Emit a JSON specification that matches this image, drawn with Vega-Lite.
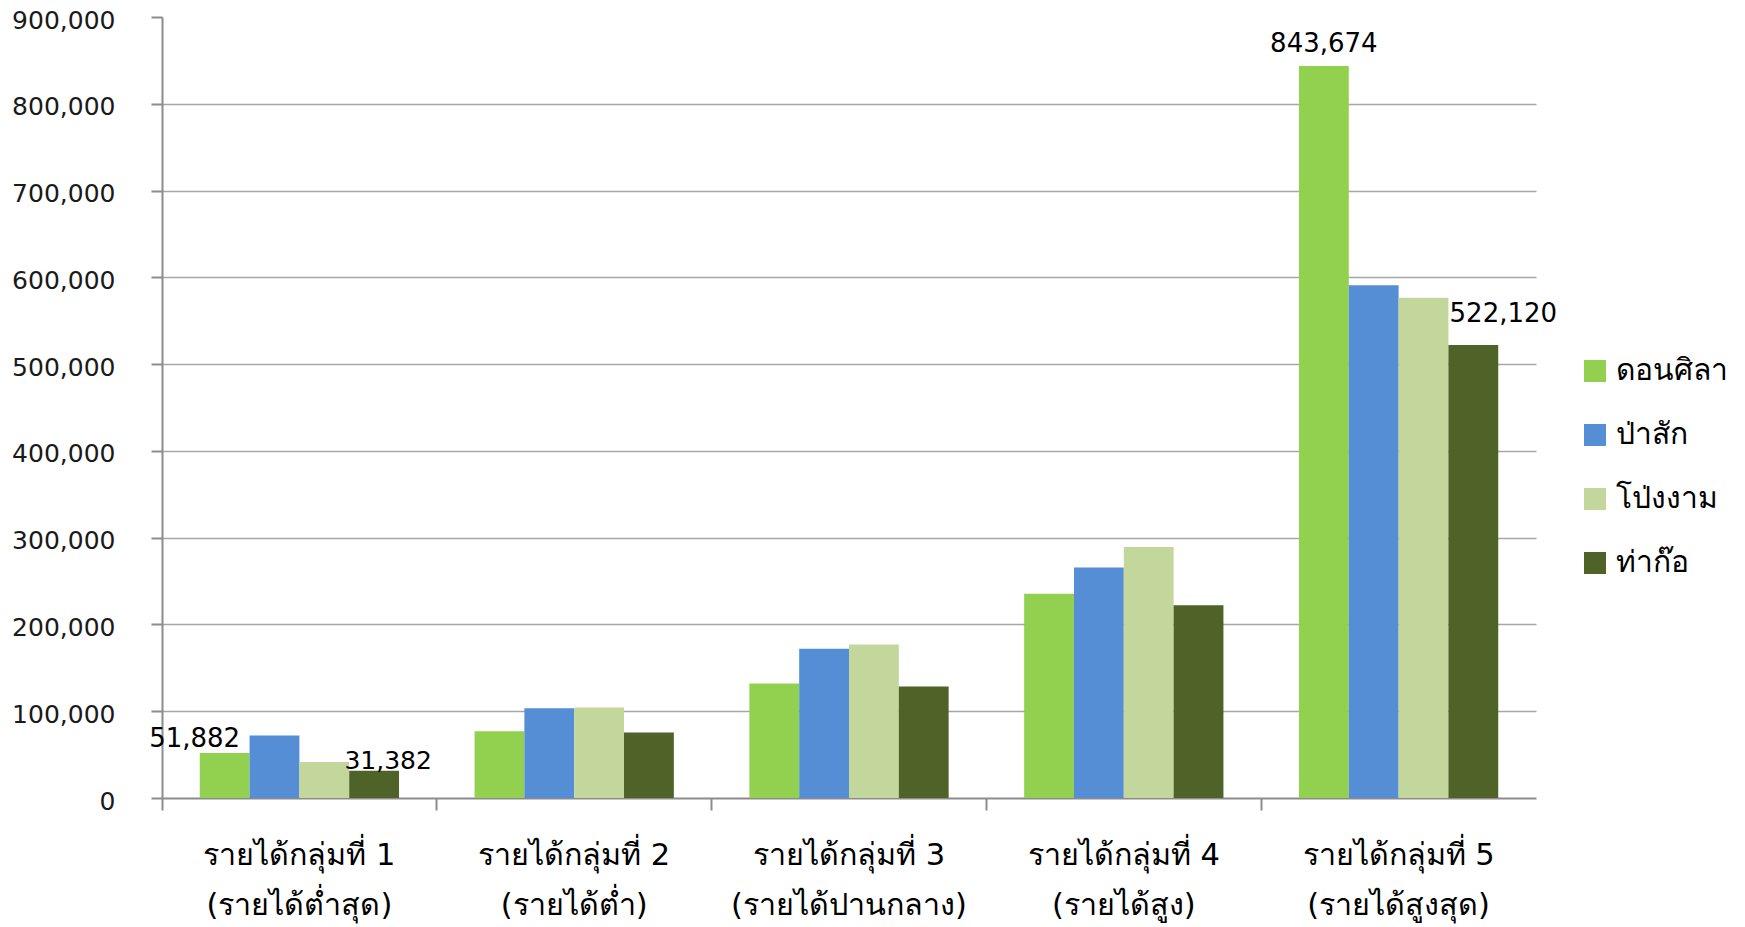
{
  "$schema": "https://vega.github.io/schema/vega-lite/v6.json",
  "width": 1374,
  "height": 781,
  "autosize": {"type": "none"},
  "padding": {"left": 162, "top": 17, "right": 209, "bottom": 129},
  "background": "white",
  "config": {"view": {"stroke": null}, "font": "DejaVu Sans"},
  "data": {
    "values": [
      {"grp": 1, "group": "รายได้กลุ่มที่ 1|(รายได้ต่ำสุด)", "area": "ดอนศิลา", "income": 51882},
      {"grp": 1, "group": "รายได้กลุ่มที่ 1|(รายได้ต่ำสุด)", "area": "ป่าสัก", "income": 72000},
      {"grp": 1, "group": "รายได้กลุ่มที่ 1|(รายได้ต่ำสุด)", "area": "โป่งงาม", "income": 41500},
      {"grp": 1, "group": "รายได้กลุ่มที่ 1|(รายได้ต่ำสุด)", "area": "ท่าก๊อ", "income": 31382},
      {"grp": 2, "group": "รายได้กลุ่มที่ 2|(รายได้ต่ำ)", "area": "ดอนศิลา", "income": 77000},
      {"grp": 2, "group": "รายได้กลุ่มที่ 2|(รายได้ต่ำ)", "area": "ป่าสัก", "income": 103500},
      {"grp": 2, "group": "รายได้กลุ่มที่ 2|(รายได้ต่ำ)", "area": "โป่งงาม", "income": 104300},
      {"grp": 2, "group": "รายได้กลุ่มที่ 2|(รายได้ต่ำ)", "area": "ท่าก๊อ", "income": 75500},
      {"grp": 3, "group": "รายได้กลุ่มที่ 3|(รายได้ปานกลาง)", "area": "ดอนศิลา", "income": 132000},
      {"grp": 3, "group": "รายได้กลุ่มที่ 3|(รายได้ปานกลาง)", "area": "ป่าสัก", "income": 172000},
      {"grp": 3, "group": "รายได้กลุ่มที่ 3|(รายได้ปานกลาง)", "area": "โป่งงาม", "income": 177000},
      {"grp": 3, "group": "รายได้กลุ่มที่ 3|(รายได้ปานกลาง)", "area": "ท่าก๊อ", "income": 128500},
      {"grp": 4, "group": "รายได้กลุ่มที่ 4|(รายได้สูง)", "area": "ดอนศิลา", "income": 235500},
      {"grp": 4, "group": "รายได้กลุ่มที่ 4|(รายได้สูง)", "area": "ป่าสัก", "income": 265500},
      {"grp": 4, "group": "รายได้กลุ่มที่ 4|(รายได้สูง)", "area": "โป่งงาม", "income": 289300},
      {"grp": 4, "group": "รายได้กลุ่มที่ 4|(รายได้สูง)", "area": "ท่าก๊อ", "income": 222000},
      {"grp": 5, "group": "รายได้กลุ่มที่ 5|(รายได้สูงสุด)", "area": "ดอนศิลา", "income": 843674},
      {"grp": 5, "group": "รายได้กลุ่มที่ 5|(รายได้สูงสุด)", "area": "ป่าสัก", "income": 591000},
      {"grp": 5, "group": "รายได้กลุ่มที่ 5|(รายได้สูงสุด)", "area": "โป่งงาม", "income": 576500},
      {"grp": 5, "group": "รายได้กลุ่มที่ 5|(รายได้สูงสุด)", "area": "ท่าก๊อ", "income": 522120}
    ]
  },
  "encoding": {
    "x": {
      "field": "group",
      "type": "nominal",
      "sort": null,
      "title": null,
      "scale": {"paddingInner": 0, "paddingOuter": 0},
      "axis": {
        "labelExpr": "split(datum.value, '|')",
        "labelAngle": 0,
        "labelFontSize": 30.5,
        "labelLineHeight": 50,
        "labelLimit": 0,
        "labelColor": "#000000",
        "labelPadding": 30,
        "bandPosition": 0,
        "tickSize": 12,
        "tickColor": "#8C8C8C",
        "tickWidth": 2,
        "domainColor": "#8C8C8C",
        "domainWidth": 2,
        "grid": false
      }
    },
    "xOffset": {
      "field": "area",
      "type": "nominal",
      "sort": ["ดอนศิลา", "ป่าสัก", "โป่งงาม", "ท่าก๊อ"],
      "scale": {"paddingInner": 0, "paddingOuter": 0.758}
    },
    "y": {
      "field": "income",
      "type": "quantitative",
      "title": null,
      "scale": {"domain": [0, 900000], "nice": false},
      "axis": {
        "values": [0, 100000, 200000, 300000, 400000, 500000, 600000, 700000, 800000, 900000],
        "format": ",d",
        "labelFontSize": 25,
        "labelColor": "#1A1A1A",
        "labelPadding": 36,
        "labelOffset": 3,
        "tickSize": 11,
        "tickColor": "#8C8C8C",
        "tickWidth": 2,
        "domainColor": "#8C8C8C",
        "domainWidth": 2,
        "grid": true,
        "gridColor": "#A6A6A6",
        "gridWidth": 1.5,
        "gridOpacity": {"condition": {"test": "datum.value >= 900000 || datum.value <= 0", "value": 0}, "value": 1}
      }
    }
  },
  "layer": [
    {
      "mark": {"type": "bar"},
      "encoding": {
        "color": {
          "field": "area",
          "type": "nominal",
          "sort": ["ดอนศิลา", "ป่าสัก", "โป่งงาม", "ท่าก๊อ"],
          "scale": {
            "domain": ["ดอนศิลา", "ป่าสัก", "โป่งงาม", "ท่าก๊อ"],
            "range": ["#92D050", "#558ED5", "#C3D69B", "#4F6228"]
          },
          "legend": {
            "title": null,
            "orient": "none",
            "legendX": 1418,
            "legendY": 339,
            "padding": 0,
            "symbolType": "square",
            "symbolSize": 484,
            "symbolStrokeWidth": 0,
            "symbolOpacity": 1,
            "labelFontSize": 30,
            "labelLimit": 0,
            "labelColor": "#000000",
            "labelOffset": 6,
            "rowPadding": 34
          }
        }
      }
    },
    {
      "transform": [{"filter": "datum.grp == 1 && datum.area == 'ดอนศิลา'"}],
      "mark": {"type": "text", "fontSize": 26, "baseline": "alphabetic", "dx": -30, "dy": -6, "color": "#000000"},
      "encoding": {"text": {"field": "income", "type": "quantitative", "format": ",d"}}
    },
    {
      "transform": [{"filter": "datum.grp == 1 && datum.area == 'ท่าก๊อ'"}],
      "mark": {"type": "text", "fontSize": 25, "baseline": "alphabetic", "dx": 14, "dy": -2, "color": "#000000"},
      "encoding": {"text": {"field": "income", "type": "quantitative", "format": ",d"}}
    },
    {
      "transform": [{"filter": "datum.grp == 5 && datum.area == 'ดอนศิลา'"}],
      "mark": {"type": "text", "fontSize": 26, "baseline": "alphabetic", "dx": 0, "dy": -14, "color": "#000000"},
      "encoding": {"text": {"field": "income", "type": "quantitative", "format": ",d"}}
    },
    {
      "transform": [{"filter": "datum.grp == 5 && datum.area == 'ท่าก๊อ'"}],
      "mark": {"type": "text", "fontSize": 26, "baseline": "alphabetic", "dx": 30, "dy": -23, "color": "#000000"},
      "encoding": {"text": {"field": "income", "type": "quantitative", "format": ",d"}}
    }
  ]
}
